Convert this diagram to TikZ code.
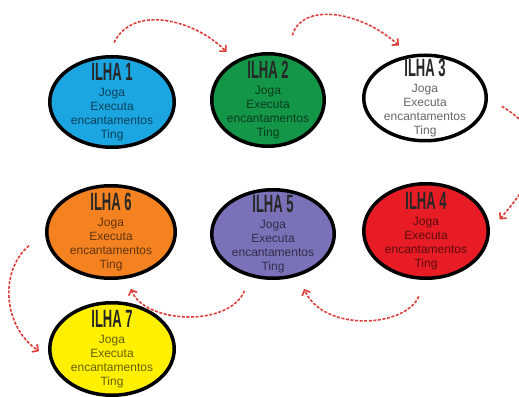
\documentclass[tikz,border=0pt]{standalone}
\usepackage{fontspec}
\setmainfont{Liberation Sans}
\usepackage{graphicx}
\usetikzlibrary{shapes.geometric,arrows.meta}

\definecolor{ilhaazul}{RGB}{28,166,225}
\definecolor{ilhaverde}{RGB}{20,150,72}
\definecolor{ilhabranca}{RGB}{255,255,255}
\definecolor{ilhavermelha}{RGB}{232,28,36}
\definecolor{ilharoxa}{RGB}{121,114,184}
\definecolor{ilhalaranja}{RGB}{245,130,32}
\definecolor{ilhaamarela}{RGB}{255,240,0}
\definecolor{setavermelha}{RGB}{222,62,58}

\newcommand{\ilhatitulo}[1]{{\color{black!85}\fontsize{25}{25}\selectfont\bfseries\scalebox{0.52}[1]{#1}}}
\newcommand{\ilhatexto}{Joga\\Executa\\encantamentos\\Ting}

\tikzset{
  ilha/.style={ellipse, draw=black, line width=3.5pt, fill=#1, text=#1!40!black,
    inner sep=-20pt, align=center, font=\fontsize{12}{14}\selectfont},
  seta/.style={draw=setavermelha, line width=1.6pt, dash pattern=on 3pt off 1.6pt,
    -{Straight Barb[length=4.5pt,width=9pt]}}
}

\begin{document}
\begin{tikzpicture}[x=1pt,y=1pt]
  \useasboundingbox (0,0) rectangle (519,396);
  \clip (0,0) rectangle (519,396);

  % ilhas
  \node[ilha=ilhaazul, minimum width=124.5pt, minimum height=90.5pt] (i1) at (112,294)
    {\ilhatitulo{ILHA 1}\\[1.5pt]\ilhatexto};
  \node[ilha=ilhaverde, minimum width=112.5pt, minimum height=92.5pt] (i2) at (268,296)
    {\ilhatitulo{ILHA 2}\\[1.5pt]\ilhatexto};
  \node[ilha=ilhabranca, minimum width=122.5pt, minimum height=85.5pt] (i3) at (425,298)
    {\ilhatitulo{ILHA 3}\\[1.5pt]\ilhatexto};
  \node[ilha=ilhavermelha, minimum width=124.5pt, minimum height=94.5pt] (i4) at (426,165)
    {\ilhatitulo{ILHA 4}\\[1.5pt]\ilhatexto};
  \node[ilha=ilharoxa, minimum width=122.5pt, minimum height=88.5pt] (i5) at (273,162)
    {\ilhatitulo{ILHA 5}\\[1.5pt]\ilhatexto};
  \node[ilha=ilhalaranja, minimum width=128.5pt, minimum height=92.5pt] (i6) at (111,164)
    {\ilhatitulo{ILHA 6}\\[1.5pt]\ilhatexto};
  \node[ilha=ilhaamarela, minimum width=124.5pt, minimum height=92.5pt] (i7) at (112,47)
    {\ilhatitulo{ILHA 7}\\[1.5pt]\ilhatexto};

  % setas entre as ilhas
  \draw[seta, shorten <=14pt, shorten >=12pt] (i1.95) .. controls +(25,51) and +(-40,41) .. (i2.130);
  \draw[seta, shorten <=20pt, shorten >=14pt] (i2.67) .. controls +(14,52) and +(-50,45) .. (i3.110);
  \draw[seta, shorten <=16pt, shorten >=15pt] (i3.east) .. controls +(73,-44) and +(42,50) .. (i4.east);
  \draw[seta, shorten <=18pt, shorten >=14pt] (i4.south) .. controls +(-21,-48) and +(25,-56) .. (i5.-59);
  \draw[seta, shorten <=15pt, shorten >=11pt] (i5.-118) .. controls +(-21,-51) and +(17,-45) .. (i6.-71);
  \draw[seta, shorten <=21pt, shorten >=12pt] (i6.west) .. controls +(-47,-40) and +(-45,30) .. (i7.-172);
\end{tikzpicture}
\end{document}
